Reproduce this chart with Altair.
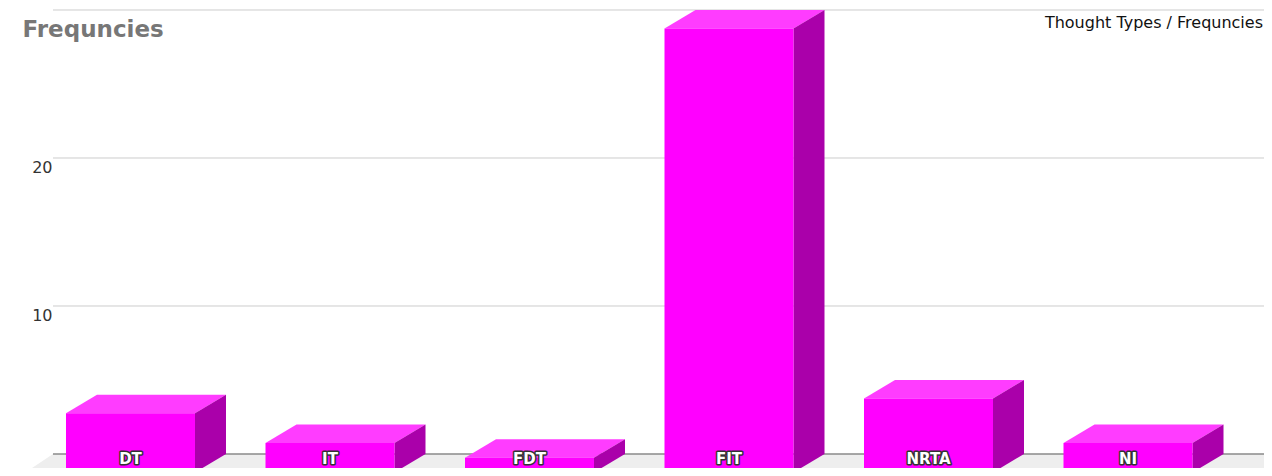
import altair as alt
import pandas as pd

# ---- data ----
categories = ["DT", "IT", "FDT", "FIT", "NRTA", "NI"]
values = [4, 2, 1, 30, 5, 2]
grid_ticks = [10, 20, 30]
label_ticks = [10, 20]
chart_title = "Thought Types / Frequncies"
axis_title = "Frequncies"

# ---- geometry (in scale units: one slot per category, y in frequency units) ----
X_MIN, X_MAX = -0.1917, 6.1040
Y_MIN, Y_MAX = -0.9460, 30.1351
A = 0.099      # gap before front face inside a slot
W = 0.6466     # front face width
DX = 0.1554    # depth offset along x
DY = 1.25      # depth offset along y
FL = 0.0338    # floor / grid start
FDX, FDY = 0.165, 1.486  # floor depth

front_rows, top_rows, side_rows, lab_rows = [], [], [], []
for i, (c, v) in enumerate(zip(categories, values)):
    l, r = i + A, i + A + W
    front_rows.append({"cat": c, "x": l, "x2": r, "y": -DY, "y2": v - DY})
    top_rows.append({"cat": c, "y": v - DY, "x": l, "x2": r})
    top_rows.append({"cat": c, "y": v, "x": l + DX, "x2": r + DX})
    side_rows.append({"cat": c, "x": r, "y": v - DY, "y2": -DY})
    side_rows.append({"cat": c, "x": r + DX, "y": v, "y2": 0})
    lab_rows.append({"cat": c, "x": (l + r) / 2, "y": -DY})

front_df = pd.DataFrame(front_rows)
top_df = pd.DataFrame(top_rows)
side_df = pd.DataFrame(side_rows)
lab_df = pd.DataFrame(lab_rows)
floor_df = pd.DataFrame([
    {"y": 0, "x": FL, "x2": X_MAX + 0.3},
    {"y": -FDY, "x": FL - FDX, "x2": X_MAX + 0.3 - FDX},
])
grid_df = pd.DataFrame({"v": grid_ticks, "xs": FL, "xe": X_MAX})
base_df = pd.DataFrame({"v": [0], "xs": [FL], "xe": [X_MAX]})

FONT = "DejaVu Sans"
xs = alt.Scale(domain=[X_MIN, X_MAX], nice=False, zero=False)
ys = alt.Scale(domain=[Y_MIN, Y_MAX], nice=False, zero=False)
yaxis = alt.Axis(
    values=label_ticks, offset=-44, ticks=False, tickSize=0, domain=False, grid=False,
    labelPadding=0, labelBaseline="middle", labelOffset=10, labelFontSize=16,
    labelColor="#333333", labelFont=FONT,
    title=axis_title, titleAngle=0, titleX=-30, titleY=28, titleAlign="left",
    titleBaseline="alphabetic", titleFontSize=23, titleFontWeight="bold",
    titleColor="#777777", titleFont=FONT,
)


def X(f):
    return alt.X(f, type="quantitative", scale=xs, axis=None, stack=None)


def Y(f):
    return alt.Y(f, type="quantitative", scale=ys, axis=yaxis, stack=None)


floor = alt.Chart(floor_df).mark_area(orient="horizontal", color="#EEEEEE", clip=True).encode(
    y=Y("y"), x=X("x"), x2=alt.X2("x2"))
grid = alt.Chart(grid_df).mark_rule(color="#CCCCCC", strokeWidth=1, clip=True).encode(
    y=Y("v"), x=X("xs"), x2=alt.X2("xe"))
base = alt.Chart(base_df).mark_rule(color="#555555", strokeWidth=1, clip=True).encode(
    y=Y("v"), x=X("xs"), x2=alt.X2("xe"))
tops = alt.Chart(top_df).mark_area(orient="horizontal", color="#FF3CFF").encode(
    y=Y("y"), x=X("x"), x2=alt.X2("x2"), detail="cat:N")
sides = alt.Chart(side_df).mark_area(orient="vertical", color="#AA00AA").encode(
    x=X("x"), y=Y("y"), y2=alt.Y2("y2"), detail="cat:N")
fronts = alt.Chart(front_df).mark_rect(color="#FF00FF").encode(
    x=X("x"), x2=alt.X2("x2"), y=Y("y"), y2=alt.Y2("y2"))
lab_outline = alt.Chart(lab_df).mark_text(
    font=FONT, fontSize=15, fontWeight="bold", baseline="alphabetic", dy=-8,
    fill="white", stroke="#333333", strokeWidth=3, strokeJoin="round",
).encode(x=X("x"), y=Y("y"), text="cat:N")
lab_fill = alt.Chart(lab_df).mark_text(
    font=FONT, fontSize=15, fontWeight="bold", baseline="alphabetic", dy=-8, color="white",
).encode(x=X("x"), y=Y("y"), text="cat:N")
title_txt = alt.Chart(pd.DataFrame({"t": [chart_title]})).mark_text(
    font=FONT, fontSize=16, align="right", baseline="alphabetic", color="#111111",
).encode(x=alt.value(1255), y=alt.value(20), text="t:N")

chart = alt.layer(
    floor, grid, base, tops, sides, fronts, lab_outline, lab_fill, title_txt
).properties(
    width=1256, height=460,
    autosize=alt.AutoSizeParams(type="none"),
    padding=0,
    background="white",
).configure_view(stroke=None)

chart.save("out.html", embed_options={"renderer": "svg", "actions": False})
